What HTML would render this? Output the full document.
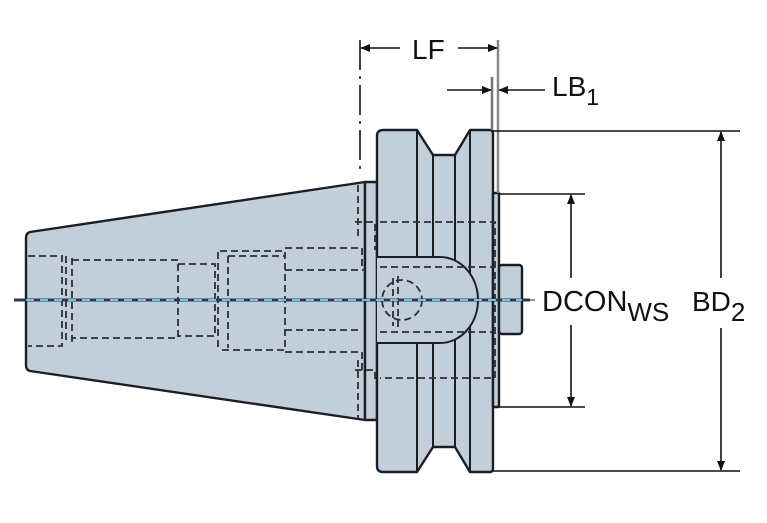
<!DOCTYPE html>
<html><head><meta charset="utf-8"><style>
html,body{margin:0;padding:0;background:#fff;}
svg{display:block;}
text{font-family:"Liberation Sans",sans-serif;fill:#111;}
</style></head><body>
<svg width="767" height="523" viewBox="0 0 767 523" xmlns="http://www.w3.org/2000/svg">
<defs>
<marker id="a" markerWidth="10" markerHeight="8" refX="9" refY="4" orient="auto" markerUnits="userSpaceOnUse"><path d="M0,0 L10,4 L0,8 z" fill="#111"/></marker>
</defs>
<g stroke="#1a1f24" stroke-width="2.4" fill="#c2ceda" stroke-linejoin="round">
<path d="M30,232 L365,182 L365,420 L30,371 Q26,370 26,365 L26,238 Q26,233 30,232 z"/>
<rect x="365" y="182" width="12" height="238"/>
<path d="M383,130 L417,130 L433,155 L455,155 L470,130 L490,130 Q493,130 493,134 L493,468 Q493,472 490,472 L470,472 L455,447 L433,447 L417,472 L383,472 Q377,472 377,466 L377,136 Q377,130 383,130 z"/>
<rect x="493" y="193" width="6" height="214"/>
<rect x="499" y="265" width="23" height="69" rx="3"/>
</g>
<g stroke="#1a1f24" stroke-width="2" fill="none">
<line x1="417" y1="130" x2="417" y2="472"/>
<line x1="433" y1="155" x2="433" y2="447"/>
<line x1="455" y1="155" x2="455" y2="447"/>
<line x1="470" y1="130" x2="470" y2="472"/>
<path d="M377,257 L440,257 A38,43 0 0 1 440,343 L377,343" fill="#c2ceda"/>
</g>
<g stroke="#2a3036" stroke-width="1.8" fill="none" stroke-dasharray="7,4">
<path d="M28,256 L62,256 L62,346 L28,346"/>
<path d="M66,256 L66,344 M72,258 L72,344"/>
<path d="M72,260 L178,260 L178,338 L72,338"/>
<path d="M178,264 L215,264 L215,336 L178,336"/>
<path d="M218,252 L218,350 M228,256 L228,348"/>
<path d="M220,251 L285,251 L285,350 L220,350 M228,256 L285,256"/>
<path d="M285,248 L362,248 L362,268 M285,270 L365,270"/>
<path d="M285,330 L362,330 M285,352 L362,352 L362,370"/>
<path d="M355,222 L375,222 L375,250 M355,370 L375,370 L375,380"/>
<path d="M358,185 L358,240 M358,360 L358,418"/>
<path d="M360,40 L360,175" stroke-dasharray="30,6,3,6"/>
<path d="M380,222 L495,222 L495,378 L380,378"/>
<path d="M380,267 L495,267 M380,332 L495,332"/>
<circle cx="402" cy="300" r="20"/>
<path d="M393,278 L393,326 M398,276 L398,328"/>
</g>
<line x1="14" y1="300" x2="530" y2="300" stroke="#2b3a44" stroke-width="3"/>
<line x1="26" y1="300" x2="522" y2="300" stroke="#6fc3ef" stroke-width="2" stroke-dasharray="8,6"/>
<line x1="522" y1="300" x2="535" y2="300" stroke="#333" stroke-width="1"/>
<g stroke="#111" stroke-width="1.6" fill="none">
<line x1="498" y1="40" x2="498" y2="193" stroke="#888" stroke-width="2.5"/>
<line x1="492" y1="77" x2="492" y2="130" stroke="#777" stroke-width="2.5"/>
<line x1="400" y1="48" x2="361" y2="48" marker-end="url(#a)"/>
<line x1="458" y1="48" x2="497" y2="48" marker-end="url(#a)"/>
<line x1="447" y1="90" x2="491" y2="90" marker-end="url(#a)"/>
<line x1="545" y1="90" x2="499" y2="90" marker-end="url(#a)"/>
<line x1="500" y1="194" x2="585" y2="194"/>
<line x1="500" y1="407" x2="585" y2="407"/>
<line x1="571" y1="278" x2="571" y2="195" marker-end="url(#a)"/>
<line x1="571" y1="325" x2="571" y2="406" marker-end="url(#a)"/>
<line x1="493" y1="131" x2="740" y2="131"/>
<line x1="493" y1="471" x2="740" y2="471"/>
<line x1="721" y1="278" x2="721" y2="132" marker-end="url(#a)"/>
<line x1="721" y1="328" x2="721" y2="470" marker-end="url(#a)"/>
</g>
<text x="412" y="59" font-size="28">LF</text>
<text x="552" y="96" font-size="28">LB<tspan font-size="23" dy="9">1</tspan></text>
<text x="542" y="311" font-size="29">DCON<tspan font-size="26" dy="10">WS</tspan></text>
<text x="692" y="311" font-size="28">BD<tspan font-size="26" dy="10">2</tspan></text>
</svg>
</body></html>
